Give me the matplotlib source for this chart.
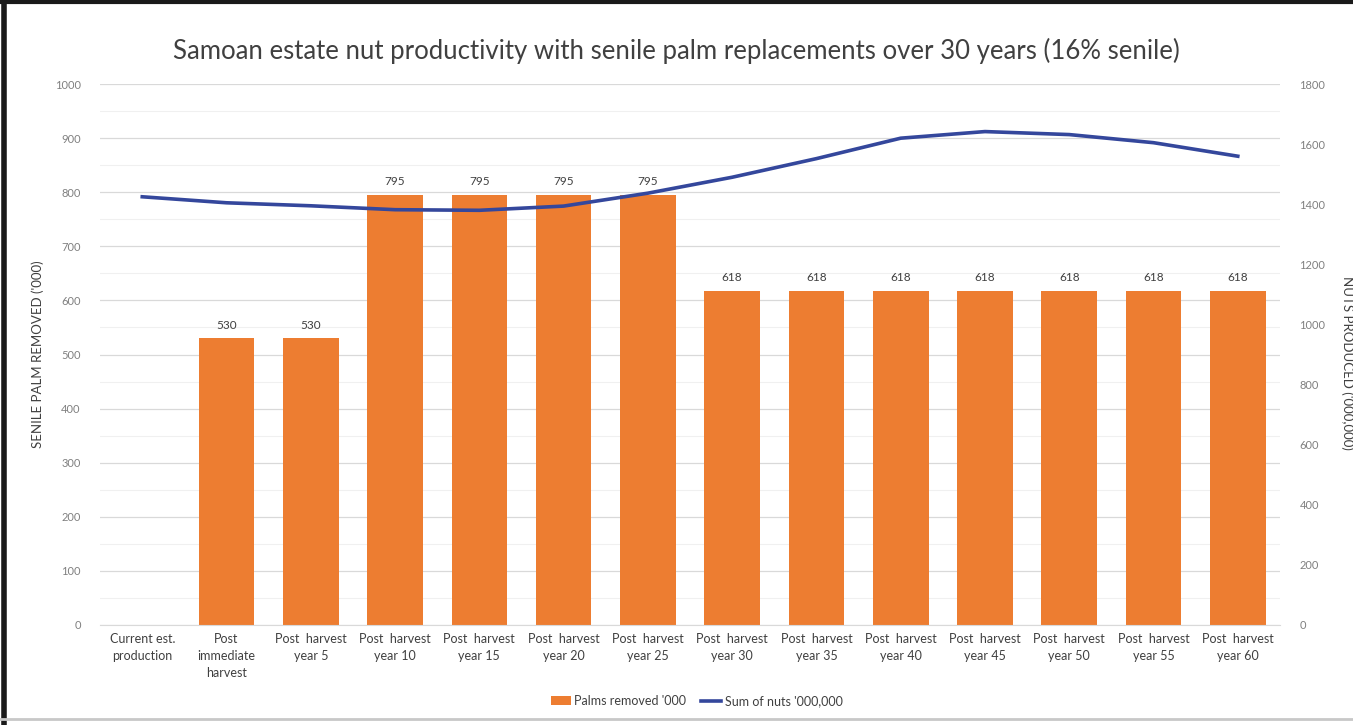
import matplotlib.pyplot as plt
from matplotlib.lines import Line2D

categories = [
    "Current est.\nproduction", "Post\nimmediate\nharvest",
    "Post  harvest\nyear 5", "Post  harvest\nyear 10", "Post  harvest\nyear 15",
    "Post  harvest\nyear 20", "Post  harvest\nyear 25", "Post  harvest\nyear 30",
    "Post  harvest\nyear 35", "Post  harvest\nyear 40", "Post  harvest\nyear 45",
    "Post  harvest\nyear 50", "Post  harvest\nyear 55", "Post  harvest\nyear 60",
]
palms_removed = [0, 530, 530, 795, 795, 795, 795, 618, 618, 618, 618, 618, 618, 618]
sum_nuts = [1425, 1405, 1395, 1382, 1380, 1394, 1437, 1490, 1552, 1620, 1642, 1632, 1605, 1560]


def build_graph():
    plt.rcParams['font.family'] = ['Lato', 'DejaVu Sans']
    fig = plt.figure(figsize=(13.53, 7.25), dpi=100)
    ax = fig.add_axes([0.074, 0.138, 0.872, 0.746])
    ax2 = ax.twinx()

    x = list(range(len(categories)))
    bars = ax.bar(x, palms_removed, width=0.66, color='#ed7d31',
                  label="Palms removed '000", zorder=2)
    for xi, v in zip(x, palms_removed):
        if v > 0:
            ax.text(xi, v + 14, str(v), ha='center', va='bottom',
                    fontsize=8.5, color='#404040')

    line, = ax2.plot(x, sum_nuts, color='#34479c', lw=2.6,
                     label="Sum of nuts '000,000", zorder=3)

    ax.set_xlim(-0.5, len(categories) - 0.5)
    ax.set_ylim(0, 1000)
    ax2.set_ylim(0, 1800)
    ax.set_yticks(range(0, 1001, 100))
    ax2.set_yticks(range(0, 1801, 200))
    ax.set_yticks(range(50, 1000, 100), minor=True)

    ax.grid(axis='y', which='major', color='#d9d9d9', lw=0.9, zorder=0)
    ax.grid(axis='y', which='minor', color='#f0f0f0', lw=0.8, zorder=0)
    ax.set_axisbelow(True)

    ax.set_xticks(x)
    ax.set_xticklabels(categories, fontsize=9, color='#404040', linespacing=1.5)
    ax.tick_params(axis='x', length=0, pad=6)
    ax.tick_params(axis='y', which='both', length=0, labelsize=8, labelcolor='#808080', pad=14)
    ax2.tick_params(axis='y', length=0, labelsize=8, labelcolor='#808080', pad=14)

    for a in (ax, ax2):
        for s in a.spines.values():
            s.set_visible(False)
    ax.spines['bottom'].set_visible(True)
    ax.spines['bottom'].set_color('#d9d9d9')

    ax.set_ylabel("SENILE PALM REMOVED ('000)", fontsize=9.5, color='#404040', labelpad=8)
    fig.text(0.996, 0.5, "NUTS PRODUCED ('000,000)", rotation=270,
             ha='center', va='center', fontsize=9.5, color='#404040')

    fig.text(0.50, 0.93, "Samoan estate nut productivity with senile palm replacements over 30 years (16% senile)",
             ha='center', va='center', fontsize=18.5, color='#404040')

    fig.legend([bars, line], [bars.get_label(), line.get_label()],
               loc='center', bbox_to_anchor=(0.515, 0.033), ncol=2, frameon=False,
               fontsize=9, labelcolor='#404040', handlelength=1.6, handletextpad=0.3,
               columnspacing=1.2)

    # frame of the screenshot: dark left/top edges, light bottom edge
    fig.lines.append(Line2D([0.003, 0.003], [0.0, 1.0], transform=fig.transFigure,
                            color='#1a1a1a', lw=4))
    fig.lines.append(Line2D([0.0, 1.0], [0.997, 0.997], transform=fig.transFigure,
                            color='#1a1a1a', lw=3))
    fig.lines.append(Line2D([0.0, 1.0], [0.008, 0.008], transform=fig.transFigure,
                            color='#c8c8c8', lw=2))

    fig.savefig('out.png', dpi=100)


def main():
    build_graph()


if __name__ == "__main__":
    main()
